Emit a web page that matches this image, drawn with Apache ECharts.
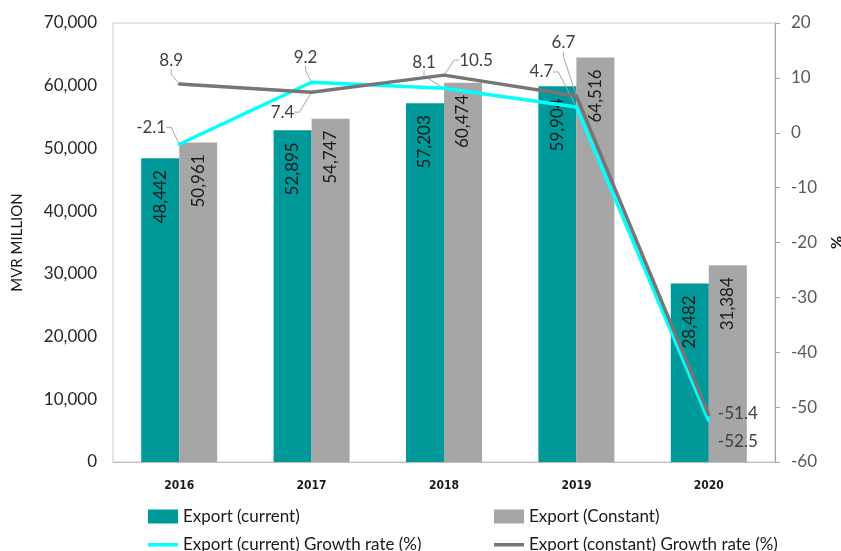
<!DOCTYPE html>
<html>
<head>
<meta charset="utf-8">
<script src="https://cdn.jsdelivr.net/npm/echarts@6/dist/echarts.min.js"></script>
<style>
  html, body { margin: 0; padding: 0; background: #fff; }
  #chart { width: 841px; height: 551px; }
</style>
</head>
<body>
<div id="chart"></div>
<script>
var years = ['2016', '2017', '2018', '2019', '2020']
var exportCurrent = [48442, 52895, 57203, 59904, 28482]
var exportConstant = [50961, 54747, 60474, 64516, 31384]
var growthCurrent = [-2.1, 9.2, 8.1, 4.7, -52.5]
var growthConstant = [8.9, 7.4, 10.5, 6.7, -51.4]

// label offsets from the point (px), like the excel callouts
var offsetCurrent = [[-28, -17], [-6, -25], [-20, -26], [-35, -35], [29, 21]]
var offsetConstant = [[-8, -23], [-29, 20], [32, -15], [-13, -53], [29, -1]]

var fontMain = 'Lato, "Noto Sans", sans-serif'
// path with a 30x14 box so the thick line keeps its size in the legend
var lineIcon = 'path://M0,0L0.01,0L0,0.01Z M0,5.5H30V9H0Z M30,14L29.99,14L30,13.99Z'

var myChart = echarts.init(document.getElementById('chart'))

function lineData(values) {
  return values.map(function (v, i) {
    // no leader line for the last point
    return { value: v, labelLine: { show: i < 4 } }
  })
}

// one legend per entry so they sit in a 2 x 2 block
function legendItem(left, top, item) {
  return {
    left: left,
    top: top,
    itemWidth: 30,
    itemHeight: 14,
    textStyle: { fontSize: 17, color: '#1a1a1a', fontFamily: fontMain },
    data: [item]
  }
}

var barLabel = {
  show: true,
  position: 'insideTop',
  rotate: 90,
  align: 'right',
  verticalAlign: 'middle',
  distance: 12,
  fontSize: 17,
  fontFamily: fontMain,
  color: '#1a1a1a',
  formatter: function (p) {
    return echarts.format.addCommas(p.value)
  }
}

var option = {
  animation: false,
  textStyle: { fontFamily: fontMain },
  grid: {
    left: 113,
    right: 66,
    top: 23,
    bottom: 89,
    outerBoundsMode: 'none',
    containLabel: false,
    show: true,
    borderColor: '#c8c8c8',
    borderWidth: 1
  },
  legend: [
    legendItem(143, 503, { name: 'Export (current)', icon: 'rect' }),
    legendItem(489, 503, { name: 'Export (Constant)', icon: 'rect' }),
    legendItem(143, 531, { name: 'Export (current) Growth rate (%)', icon: lineIcon, itemStyle: { color: '#00ffff' } }),
    legendItem(489, 531, { name: 'Export (constant) Growth rate (%)', icon: lineIcon, itemStyle: { color: '#767676' } })
  ],
  xAxis: {
    type: 'category',
    data: years,
    axisLine: { lineStyle: { color: '#bfbfbf' } },
    axisTick: { show: false },
    axisLabel: {
      margin: 18,
      fontSize: 12,
      fontWeight: 'bold',
      fontFamily: '"DejaVu Sans Condensed", "DejaVu Sans", sans-serif',
      color: '#1a1a1a'
    }
  },
  yAxis: [
    {
      type: 'value',
      min: 0,
      max: 70000,
      interval: 10000,
      name: 'MVR MILLION',
      nameLocation: 'middle',
      nameGap: 88,
      nameTextStyle: { fontSize: 15, color: '#1a1a1a', fontFamily: fontMain },
      axisLine: { show: false },
      axisTick: { show: false },
      splitLine: { show: false },
      axisLabel: { fontSize: 17, color: '#262626', margin: 16 }
    },
    {
      type: 'value',
      min: -60,
      max: 20,
      interval: 10,
      position: 'right',
      name: '%',
      nameLocation: 'middle',
      nameGap: 50,
      nameRotate: -90,
      nameTextStyle: { fontSize: 16, fontWeight: 'bold', color: '#1a1a1a', fontFamily: fontMain },
      axisLine: { show: true, lineStyle: { color: '#a6a6a6' } },
      axisTick: { show: true, length: 5, lineStyle: { color: '#a6a6a6' } },
      splitLine: { show: false },
      axisLabel: { fontSize: 17, color: '#595959', margin: 16 }
    }
  ],
  series: [
    {
      name: 'Export (current)',
      type: 'bar',
      barWidth: 38,
      barGap: '0%',
      itemStyle: { color: '#009999' },
      label: barLabel,
      data: exportCurrent
    },
    {
      name: 'Export (Constant)',
      type: 'bar',
      barWidth: 38,
      barGap: '0%',
      itemStyle: { color: '#a6a6a6' },
      label: barLabel,
      data: exportConstant
    },
    {
      name: 'Export (current) Growth rate (%)',
      type: 'line',
      yAxisIndex: 1,
      symbol: 'circle',
      symbolSize: 3,
      itemStyle: { color: '#00ffff' },
      lineStyle: { color: '#00ffff', width: 3.5 },
      label: { show: true, position: 'inside', fontSize: 17, color: '#404040' },
      labelLayout: function (p) {
        return { dx: offsetCurrent[p.dataIndex][0], dy: offsetCurrent[p.dataIndex][1] }
      },
      labelLine: { show: true, length2: 5, lineStyle: { color: '#a6a6a6', width: 1 } },
      z: 3,
      data: lineData(growthCurrent)
    },
    {
      name: 'Export (constant) Growth rate (%)',
      type: 'line',
      yAxisIndex: 1,
      symbol: 'circle',
      symbolSize: 3,
      itemStyle: { color: '#767676' },
      lineStyle: { color: '#767676', width: 3.5 },
      label: { show: true, position: 'inside', fontSize: 17, color: '#404040' },
      labelLayout: function (p) {
        return { dx: offsetConstant[p.dataIndex][0], dy: offsetConstant[p.dataIndex][1] }
      },
      labelLine: { show: true, length2: 5, lineStyle: { color: '#a6a6a6', width: 1 } },
      z: 4,
      data: lineData(growthConstant)
    }
  ]
}

myChart.setOption(option)
</script>
</body>
</html>
